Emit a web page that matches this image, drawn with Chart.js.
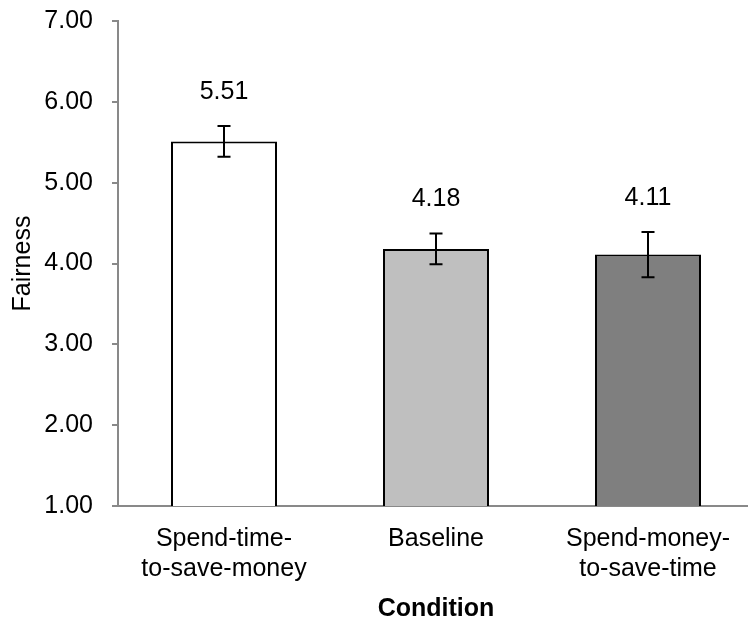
<!DOCTYPE html>
<html>
<head>
<meta charset="utf-8">
<script src="https://cdn.jsdelivr.net/npm/chart.js@4"></script>
<style>
  html, body { margin: 0; padding: 0; background: #fff; overflow: hidden; }
  /* pull the canvas up a little so the plot top lands where the reference has it */
  #myChart { margin-top: -13px; }
</style>
</head>
<body>
<canvas id="myChart" width="760" height="631"></canvas>
<script>
// chart data
const categories = [['Spend-time-', 'to-save-money'], 'Baseline', ['Spend-money-', 'to-save-time']];
const fairness = [5.51, 4.18, 4.11];
const errors = [0.19, 0.19, 0.28];
const barColors = ['#ffffff', '#bfbfbf', '#7f7f7f'];

const fontName = '"Liberation Sans", Arial, sans-serif';
const axisGray = '#898989';

// error bars + value labels (labels sit above the error bar tops)
const errorBarPlugin = {
    id: 'errorBars',
    afterDatasetsDraw(chart) {
        const ctx = chart.ctx;
        const yScale = chart.scales.y;
        const meta = chart.getDatasetMeta(0);
        ctx.save();
        ctx.strokeStyle = '#000';
        ctx.lineWidth = 2;
        meta.data.forEach((bar, i) => {
            const x = Math.round(bar.x);
            const top = yScale.getPixelForValue(fairness[i] + errors[i]);
            const bottom = yScale.getPixelForValue(fairness[i] - errors[i]);
            ctx.beginPath();
            ctx.moveTo(x, top);
            ctx.lineTo(x, bottom);
            ctx.moveTo(x - 6.5, top);
            ctx.lineTo(x + 6.5, top);
            ctx.moveTo(x - 6.5, bottom);
            ctx.lineTo(x + 6.5, bottom);
            ctx.stroke();

            ctx.fillStyle = '#000';
            ctx.font = '25px ' + fontName;
            ctx.textAlign = 'center';
            ctx.textBaseline = 'middle';
            ctx.fillText(fairness[i].toFixed(2), x, top - 34);
        });
        ctx.restore();
    }
};

new Chart(document.getElementById('myChart').getContext('2d'), {
    type: 'bar',
    data: {
        labels: categories,
        datasets: [{
            label: 'Fairness',
            data: fairness,
            backgroundColor: barColors,
            borderColor: '#000',
            borderWidth: 2,
            categoryPercentage: 1,
            barPercentage: 0.5
        }]
    },
    options: {
        responsive: false,
        animation: false,
        events: [],
        layout: {
            padding: { left: 0, right: 6, top: 5, bottom: 0 }
        },
        plugins: {
            legend: { display: false },
            tooltip: { enabled: false }
        },
        scales: {
            x: {
                grid: { display: false },
                border: { display: true, color: axisGray, width: 2 },
                ticks: {
                    color: '#000',
                    padding: 10,
                    maxRotation: 0,
                    autoSkip: false,
                    font: { family: fontName, size: 25, lineHeight: 1.2 }
                },
                title: {
                    display: true,
                    text: 'Condition',
                    color: '#000',
                    padding: { top: 0, bottom: -6 },
                    font: { family: fontName, size: 25, weight: 'bold', lineHeight: 1.2 }
                },
                afterFit(scale) { scale.height = 112; }
            },
            y: {
                min: 1,
                max: 7,
                grid: {
                    drawOnChartArea: false,
                    drawTicks: true,
                    tickLength: 6,
                    color: axisGray,
                    lineWidth: 2
                },
                border: { display: true, color: axisGray, width: 2 },
                ticks: {
                    stepSize: 1,
                    color: '#000',
                    padding: 19,
                    font: { family: fontName, size: 25 },
                    callback: v => v.toFixed(2)
                },
                title: {
                    display: true,
                    text: 'Fairness',
                    color: '#000',
                    padding: { top: 8, bottom: 0 },
                    font: { family: fontName, size: 25, lineHeight: 1.2 }
                },
                afterFit(scale) { scale.width = 118; }
            }
        }
    },
    plugins: [errorBarPlugin]
});
</script>
</body>
</html>
